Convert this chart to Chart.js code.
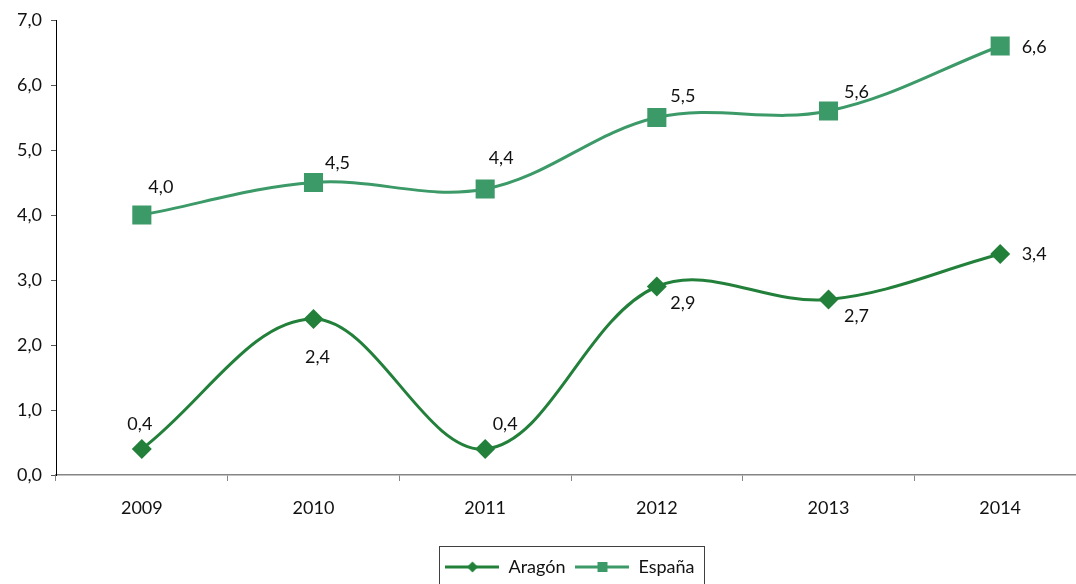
<!DOCTYPE html>
<html>
<head>
<meta charset="utf-8">
<script src="https://cdn.jsdelivr.net/npm/chart.js@4/dist/chart.umd.min.js"></script>
<style>
  html, body { margin: 0; padding: 0; background: #fff; overflow: hidden; }
  #wrap { width: 1100px; height: 600px; position: relative; }
</style>
</head>
<body>
<div id="wrap"><canvas id="grafico"></canvas></div>
<script>
// datos
let anios = ['2009', '2010', '2011', '2012', '2013', '2014'];
let aragon = [0.4, 2.4, 0.4, 2.9, 2.7, 3.4];
let espana = [4.0, 4.5, 4.4, 5.5, 5.6, 6.6];

// desplazamiento de las etiquetas respecto al punto (px)
let etiqAragon = [[-2, -25], [4, 38], [20, -25], [26, 17], [28, 17], [34, 0]];
let etiqEspana = [[19, -28], [24, -19], [16, -31], [26, -21], [28, -19], [34, 1]];

const colAragon = '#22803a';
const colEspana = '#3c9a68';
const fuente = 'Lato, "Open Sans", sans-serif';

function coma(v) {
    return v.toFixed(1).replace('.', ',');
}

// icono de leyenda: linea con marcador en medio
function iconoLeyenda(color, tipo) {
    let c = document.createElement('canvas');
    c.width = 54; c.height = 20;
    let g = c.getContext('2d');
    g.strokeStyle = color;
    g.lineWidth = 3;
    g.beginPath(); g.moveTo(0, 10); g.lineTo(54, 10); g.stroke();
    g.fillStyle = color;
    if (tipo == 'rombo') {
        g.beginPath();
        g.moveTo(27, 4.5); g.lineTo(32.5, 10); g.lineTo(27, 15.5); g.lineTo(21.5, 10);
        g.closePath(); g.fill();
    } else {
        g.fillRect(22, 5, 10, 10);
    }
    return c;
}

const etiquetas = {
    id: 'etiquetas',
    afterDatasetsDraw(chart) {
        let ctx = chart.ctx;
        let offs = [etiqAragon, etiqEspana];
        ctx.save();
        ctx.font = '18px ' + fuente;
        ctx.fillStyle = '#111';
        ctx.textAlign = 'center';
        ctx.textBaseline = 'middle';
        chart.data.datasets.forEach(function(ds, i) {
            chart.getDatasetMeta(i).data.forEach(function(p, j) {
                ctx.fillText(coma(ds.data[j]), p.x + offs[i][j][0], p.y + offs[i][j][1]);
            });
        });
        ctx.restore();
    }
};

// la leyenda va centrada bajo el area del grafico, con marco
const marcoLeyenda = {
    id: 'marcoLeyenda',
    afterLayout(chart) {
        let lg = chart.legend;
        lg.left += 27;
        lg.right += 27;
    },
    afterDraw(chart) {
        let lg = chart.legend;
        if (!lg.lineWidths) return;
        let ancho = lg.lineWidths[0];
        let x0 = (lg.left + 10 + lg.right - ancho) / 2;
        let ctx = chart.ctx;
        ctx.save();
        ctx.strokeStyle = '#404040';
        ctx.lineWidth = 1;
        ctx.strokeRect(Math.round(x0 - 6) + 0.5, Math.round(lg.top - 2) + 0.5,
            Math.round(ancho + 6), 60);
        ctx.restore();
    }
};

new Chart(document.getElementById('grafico'), {
    type: 'line',
    data: {
        labels: anios,
        datasets: [
            {
                label: 'Aragón',
                data: aragon,
                borderColor: colAragon,
                backgroundColor: colAragon,
                borderWidth: 3,
                pointStyle: 'rectRot',
                pointRadius: 10,
                pointBorderWidth: 0,
                tension: 0.36,
                fill: false
            },
            {
                label: 'España',
                data: espana,
                borderColor: colEspana,
                backgroundColor: colEspana,
                borderWidth: 3,
                pointStyle: 'rect',
                pointRadius: 13.5,
                pointBorderWidth: 0,
                tension: 0.36,
                fill: false
            }
        ]
    },
    options: {
        responsive: true,
        maintainAspectRatio: false,
        animation: false,
        events: [],
        layout: { padding: { left: 0, right: 14, top: 20, bottom: 14 } },
        plugins: {
            tooltip: { enabled: false },
            legend: {
                position: 'bottom',
                labels: {
                    usePointStyle: true,
                    pointStyleWidth: 54,
                    padding: 10,
                    color: '#111',
                    font: { family: fuente, size: 18 },
                    generateLabels: function(chart) {
                        return chart.data.datasets.map(function(ds, i) {
                            return {
                                text: ds.label,
                                datasetIndex: i,
                                fontColor: '#111',
                                lineWidth: 0,
                                strokeStyle: ds.borderColor,
                                fillStyle: ds.backgroundColor,
                                pointStyle: iconoLeyenda(ds.borderColor, i == 0 ? 'rombo' : 'cuadro')
                            };
                        });
                    }
                }
            }
        },
        scales: {
            x: {
                offset: true,
                grid: { offset: true, drawOnChartArea: false, tickLength: 6, color: '#868686' },
                border: { color: '#868686', width: 1.5 },
                ticks: { padding: 16, color: '#111', font: { family: fuente, size: 18 } },
                afterFit: function(s) { s.height = 73; }
            },
            y: {
                min: 0,
                max: 7,
                grid: { drawOnChartArea: false, tickLength: 5, color: '#555' },
                border: { color: '#000', width: 1 },
                ticks: {
                    stepSize: 1,
                    padding: 9,
                    color: '#111',
                    font: { family: fuente, size: 18 },
                    callback: function(v) { return coma(v); }
                },
                afterFit: function(s) { s.width = 56; }
            }
        }
    },
    plugins: [etiquetas, marcoLeyenda]
});
</script>
</body>
</html>
